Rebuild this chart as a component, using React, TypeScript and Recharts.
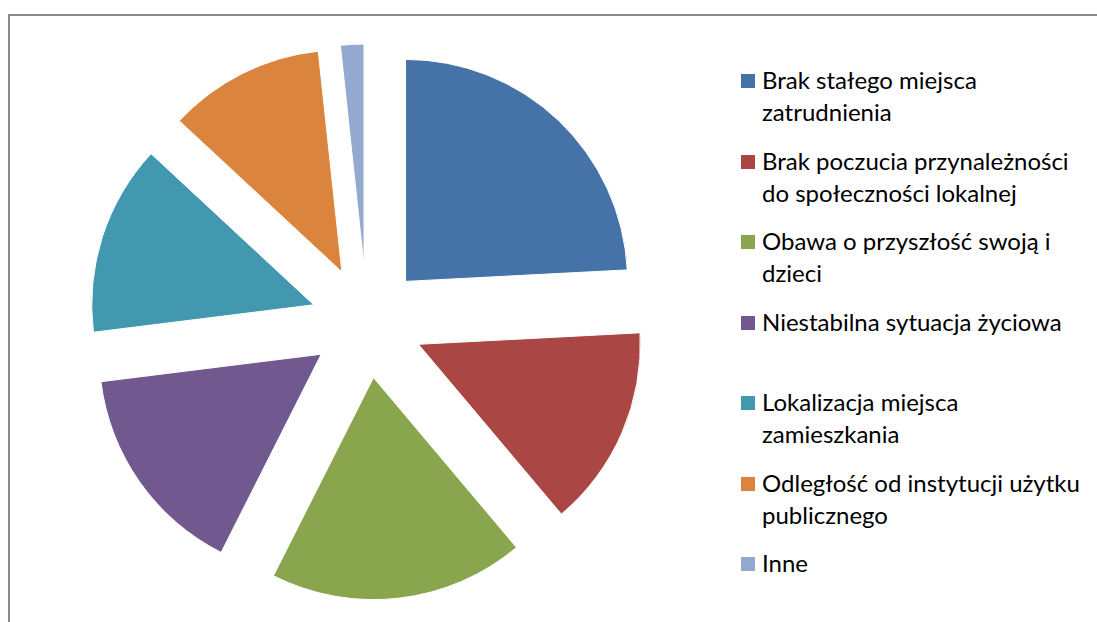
import { PieChart, Pie, Cell } from "recharts";

const labels = [
  "Brak stałego miejsca zatrudnienia",
  "Brak poczucia przynależności do społeczności lokalnej",
  "Obawa o przyszłość swoją i dzieci",
  "Niestabilna sytuacja życiowa",
  "Lokalizacja miejsca zamieszkania",
  "Odległość od instytucji użytku publicznego",
  "Inne",
];
const values = [24.2, 14.7, 18.6, 15.6, 13.9, 11.4, 1.7];
const colors = ["#4572A7", "#AA4643", "#89A54E", "#71588F", "#4198AF", "#DB843D", "#93A9CF"];

const data = labels.map((name, i) => ({ name, value: values[i] }));

const CX = 362;
const CY = 317;
const R = 222;
const EXPLODE = 56;

// mid angle of every slice (clockwise from 12 o'clock), used to push it out
const total = values.reduce((a, b) => a + b, 0);
const mids: number[] = [];
let acc = 0;
values.forEach((v) => {
  mids.push(((acc + v / 2) / total) * 2 * Math.PI);
  acc += v;
});

export default function App() {
  return (
    <div style={{ position: "absolute", left: 0, top: 0, width: 1097, height: 622, background: "#fff", overflow: "hidden" }}>
      <div
        style={{
          position: "absolute",
          left: 8,
          top: 14,
          width: 1200,
          height: 700,
          borderTop: "2px solid #8a8a8a",
          borderLeft: "2px solid #8a8a8a",
        }}
      />
      <div style={{ position: "absolute", left: 0, top: 0 }}>
        <PieChart width={1097} height={622}>
          {data.map((_, k) => (
            <Pie
              key={k}
              data={data}
              dataKey="value"
              nameKey="name"
              cx={CX + EXPLODE * Math.sin(mids[k])}
              cy={CY - EXPLODE * Math.cos(mids[k])}
              outerRadius={R}
              startAngle={90}
              endAngle={-270}
              isAnimationActive={false}
              labelLine={false}
            >
              {data.map((_, i) => (
                <Cell
                  key={i}
                  fill={i === k ? colors[i] : "transparent"}
                  stroke={i === k ? "#ffffff" : "none"}
                  strokeWidth={1}
                />
              ))}
            </Pie>
          ))}
        </PieChart>
      </div>
      {labels.map((name, i) => (
        <div
          key={name}
          style={{
            position: "absolute",
            left: 741,
            top: 64 + i * 80.5,
            display: "flex",
            alignItems: "flex-start",
            fontFamily: "Lato, sans-serif",
            fontSize: 24,
            lineHeight: "32px",
            color: "#000",
          }}
        >
          <span style={{ width: 14, height: 14, marginTop: 10, marginRight: 7, background: colors[i], flexShrink: 0 }} />
          <span style={{ width: 328 }}>{name}</span>
        </div>
      ))}
    </div>
  );
}
